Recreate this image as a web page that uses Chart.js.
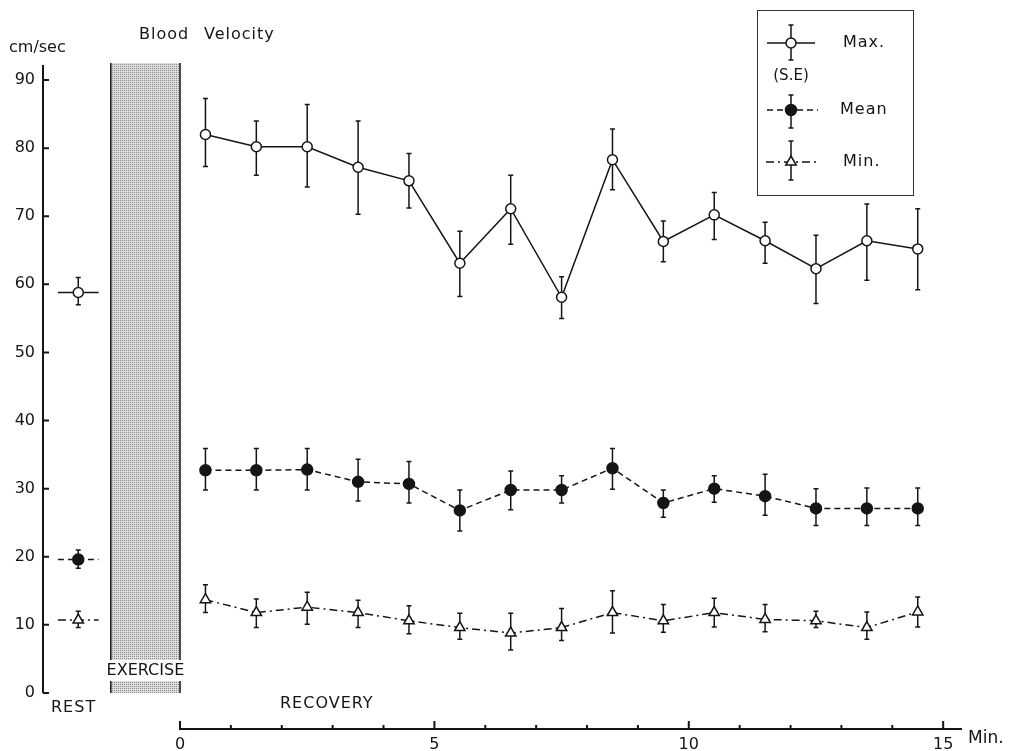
<!DOCTYPE html>
<html>
<head>
<meta charset="utf-8">
<title>Blood Velocity</title>
<script src="https://cdn.jsdelivr.net/npm/chart.js@4.4.1/dist/chart.umd.min.js"></script>
<style>
  html, body { margin: 0; padding: 0; background: #fff; }
  #wrap { width: 1016px; height: 751px; position: relative; }
</style>
</head>
<body>
<div id="wrap"><canvas id="velocityChart"></canvas></div>
<script>
// ===== DATA =====
const recoveryMin = [0.5, 1.5, 2.5, 3.5, 4.5, 5.5, 6.5, 7.5, 8.5, 9.5, 10.5, 11.5, 12.5, 13.5, 14.5];

const maxVel   = [82.0, 80.2, 80.2, 77.2, 75.2, 63.1, 71.1, 58.1, 78.3, 66.3, 70.2, 66.4, 62.3, 66.4, 65.2];
const maxHi    = [87.3, 84.0, 86.4, 84.0, 79.2, 67.8, 76.0, 61.1, 82.8, 69.3, 73.5, 69.1, 67.2, 71.8, 71.1];
const maxLo    = [77.3, 76.0, 74.3, 70.3, 71.2, 58.2, 65.9, 55.0, 73.9, 63.3, 66.6, 63.1, 57.2, 60.6, 59.2];

const meanVel  = [32.7, 32.7, 32.8, 31.0, 30.7, 26.8, 29.8, 29.8, 33.0, 27.9, 30.0, 28.9, 27.1, 27.1, 27.1];
const meanHi   = [35.9, 35.9, 35.9, 34.3, 34.0, 29.8, 32.6, 31.9, 35.9, 29.8, 31.9, 32.1, 30.0, 30.1, 30.1];
const meanLo   = [29.8, 29.8, 29.8, 28.2, 27.9, 23.8, 26.9, 27.9, 29.9, 25.8, 28.0, 26.1, 24.6, 24.6, 24.6];

const minVel   = [13.7, 11.8, 12.6, 11.8, 10.6, 9.6, 8.8, 9.6, 11.8, 10.6, 11.8, 10.8, 10.6, 9.6, 11.9];
const minHi    = [15.9, 13.8, 14.8, 13.6, 12.8, 11.7, 11.7, 12.4, 15.0, 13.0, 13.9, 13.0, 12.0, 11.9, 14.1];
const minLo    = [11.8, 9.6, 10.1, 9.6, 8.7, 7.9, 6.3, 7.7, 8.8, 8.9, 9.7, 9.0, 9.6, 7.9, 9.7];

// rest values: Max, Mean, Min
const restVel  = [58.8, 19.6, 10.7];
const restHi   = [61.0, 21.0, 12.0];
const restLo   = [57.0, 18.3, 9.6];

const seriesNames = ['Max.', 'Mean', 'Min.'];
const yTicks = [0, 10, 20, 30, 40, 50, 60, 70, 80, 90];
const xTicks = [0, 1, 2, 3, 4, 5, 6, 7, 8, 9, 10, 11, 12, 13, 14, 15];
const xLabelEvery = 5;

// position of rest marks and exercise block on the minute scale
const restX = -2.0;
const restSpan = 0.4;
const exerciseStart = -1.36;
const exerciseEnd = 0;

const FONT = '"DejaVu Sans", "Open Sans", sans-serif';
const INK = '#151515';

const styles = [
    { dash: [], fill: '#fff', marker: 'circle', r: 5 },
    { dash: [6, 4], fill: INK, marker: 'circle', r: 5.5 },
    { dash: [8, 4, 2, 4], fill: '#fff', marker: 'triangle', r: 6 }
];

const recoverySets = [
    [maxVel, maxHi, maxLo],
    [meanVel, meanHi, meanLo],
    [minVel, minHi, minLo]
];

const datasets = [];
recoverySets.forEach(([vals, hi, lo], i) => {
    const st = styles[i];
    datasets.push({
        label: seriesNames[i],
        data: recoveryMin.map((m, k) => ({ x: m, y: vals[k] })),
        errHi: hi, errLo: lo,
        borderColor: INK, borderWidth: 1.5, borderDash: st.dash,
        pointStyle: st.marker, pointRadius: st.r, pointBackgroundColor: st.fill,
        pointBorderColor: INK, pointBorderWidth: 1.5, tension: 0
    });
    // short rest segment with its mark in the middle
    datasets.push({
        label: seriesNames[i] + ' rest',
        data: [restX - restSpan, restX, restX + restSpan].map(x => ({ x, y: restVel[i] })),
        errHi: [null, restHi[i], null], errLo: [null, restLo[i], null],
        borderColor: INK, borderWidth: 1.5, borderDash: st.dash,
        pointStyle: st.marker, pointRadius: [0, st.r, 0], pointBackgroundColor: st.fill,
        pointBorderColor: INK, pointBorderWidth: 1.5, tension: 0
    });
});

function stipple(ctx) {
    const p = document.createElement('canvas');
    p.width = 2; p.height = 2;
    const c = p.getContext('2d');
    c.fillStyle = '#dedede'; c.fillRect(0, 0, 2, 2);
    c.fillStyle = '#8a8a8a'; c.fillRect(0, 0, 1, 1);
    return ctx.createPattern(p, 'repeat');
}

function errBar(ctx, px, yTop, yBot, cap) {
    ctx.beginPath();
    ctx.moveTo(px, yTop); ctx.lineTo(px, yBot);
    ctx.moveTo(px - cap, yTop); ctx.lineTo(px + cap, yTop);
    ctx.moveTo(px - cap, yBot); ctx.lineTo(px + cap, yBot);
    ctx.stroke();
}

function marker(ctx, st, x, y) {
    ctx.save();
    ctx.setLineDash([]);
    ctx.lineWidth = 1.5;
    ctx.strokeStyle = INK;
    ctx.fillStyle = st.fill;
    ctx.beginPath();
    if (st.marker === 'circle') {
        ctx.arc(x, y, st.r, 0, Math.PI * 2);
    } else {
        const r = st.r;
        ctx.moveTo(x, y - r);
        ctx.lineTo(x + r * 0.87, y + r * 0.5);
        ctx.lineTo(x - r * 0.87, y + r * 0.5);
        ctx.closePath();
    }
    ctx.fill();
    ctx.stroke();
    ctx.restore();
}

function text(ctx, str, x, y, size, align, spacing) {
    ctx.font = size + 'px ' + FONT;
    ctx.letterSpacing = spacing || '0px';
    ctx.textAlign = align || 'left';
    ctx.textBaseline = 'middle';
    ctx.fillStyle = INK;
    ctx.fillText(str, x, y);
    ctx.letterSpacing = '0px';
}

const overlay = {
    id: 'overlay',
    beforeDatasetsDraw(chart) {
        const { ctx, chartArea, scales: { x, y } } = chart;
        ctx.save();
        // ===== EXERCISE BLOCK =====
        const x0 = x.getPixelForValue(exerciseStart);
        const x1 = x.getPixelForValue(exerciseEnd);
        const top = chartArea.top;
        const bot = y.getPixelForValue(0);
        ctx.fillStyle = stipple(ctx);
        ctx.fillRect(x0, top, x1 - x0, bot - top);
        ctx.strokeStyle = INK;
        ctx.lineWidth = 1.5;
        ctx.beginPath();
        ctx.moveTo(x0, top); ctx.lineTo(x0, bot);
        ctx.moveTo(x1, top); ctx.lineTo(x1, bot);
        ctx.stroke();

        // ===== ERROR BARS =====
        ctx.lineWidth = 1.5;
        chart.data.datasets.forEach((ds, i) => {
            const meta = chart.getDatasetMeta(i);
            meta.data.forEach((pt, k) => {
                if (ds.errHi[k] == null) return;
                errBar(ctx, pt.x, y.getPixelForValue(ds.errHi[k]), y.getPixelForValue(ds.errLo[k]), 2.5);
            });
        });
        ctx.restore();
    },
    afterDraw(chart) {
        const { ctx, chartArea, scales: { x, y } } = chart;
        ctx.save();
        ctx.strokeStyle = INK;
        ctx.lineWidth = 2;

        // ===== Y AXIS =====
        const ax = chartArea.left;
        const y0 = y.getPixelForValue(0);
        ctx.beginPath();
        ctx.moveTo(ax, y.getPixelForValue(y.max) + 2);
        ctx.lineTo(ax, y0);
        yTicks.forEach(v => {
            const py = y.getPixelForValue(v);
            ctx.moveTo(ax, py); ctx.lineTo(ax + 6, py);
        });
        ctx.stroke();

        // ===== X AXIS (time of recovery) =====
        const by = chartArea.bottom;
        ctx.beginPath();
        ctx.moveTo(x.getPixelForValue(0), by - 8);
        ctx.lineTo(x.getPixelForValue(0), by);
        ctx.lineTo(chartArea.right, by);
        xTicks.forEach(v => {
            const px = x.getPixelForValue(v);
            ctx.moveTo(px, by);
            ctx.lineTo(px, by - (v % xLabelEvery === 0 ? 8 : 4));
        });
        ctx.stroke();

        // ===== TEXTS =====
        text(ctx, 'cm/sec', 9, 48, 16);
        text(ctx, 'Blood', 139, 35, 16, 'left', '1px');
        text(ctx, 'Velocity', 204, 35, 16, 'left', '1px');
        text(ctx, 'REST', 51, 708, 16, 'left', '1px');
        text(ctx, 'RECOVERY', 280, 704, 16, 'left', '1px');
        text(ctx, 'Min.', 968, 739, 17);

        const exMid = (x.getPixelForValue(exerciseStart) + x.getPixelForValue(exerciseEnd)) / 2;
        ctx.font = '16px ' + FONT;
        const w = ctx.measureText('EXERCISE').width;
        ctx.fillStyle = '#fff';
        ctx.fillRect(exMid - w / 2 - 2, 660, w + 4, 21);
        text(ctx, 'EXERCISE', exMid, 671, 16, 'center');

        // ===== LEGEND =====
        ctx.lineWidth = 1;
        ctx.strokeStyle = '#333';
        ctx.strokeRect(757.5, 10.5, 156, 185);
        const rows = [
            { y: 43, top: 25, bot: 60, x0: 767, x1: 815, tx: 843 },
            { y: 110, top: 95, bot: 128, x0: 767, x1: 818, tx: 840 },
            { y: 162, top: 141, bot: 180, x0: 766, x1: 816, tx: 843 }
        ];
        const mx = 791;
        rows.forEach((row, i) => {
            const st = styles[i];
            ctx.strokeStyle = INK;
            ctx.lineWidth = 1.5;
            ctx.setLineDash(st.dash);
            ctx.beginPath();
            ctx.moveTo(row.x0, row.y); ctx.lineTo(row.x1, row.y);
            ctx.stroke();
            ctx.setLineDash([]);
            errBar(ctx, mx, row.top, row.bot, 2.5);
            marker(ctx, st, mx, row.y);
            text(ctx, seriesNames[i], row.tx, row.y, 16, 'left', '1px');
        });
        text(ctx, '(S.E)', mx, 76, 15, 'center');
        ctx.restore();
    }
};

new Chart(document.getElementById('velocityChart').getContext('2d'), {
    type: 'line',
    data: { datasets },
    options: {
        responsive: true,
        maintainAspectRatio: false,
        animation: false,
        layout: { padding: { top: 63, right: 54, left: 0, bottom: 0 } },
        plugins: { legend: { display: false }, tooltip: { enabled: false } },
        scales: {
            x: {
                type: 'linear',
                min: -2.693,
                max: 15.37,
                afterBuildTicks: s => { s.ticks = xTicks.map(v => ({ value: v })); },
                afterFit: s => { s.height = 22; },
                grid: { display: false, drawTicks: false },
                border: { display: false },
                ticks: {
                    autoSkip: false, maxRotation: 0, padding: 6,
                    color: INK, font: { family: FONT, size: 16 },
                    callback: v => (v % xLabelEvery === 0 ? v : '')
                }
            },
            y: {
                min: -5.29,
                max: 92.5,
                afterBuildTicks: s => { s.ticks = yTicks.map(v => ({ value: v })); },
                afterFit: s => { s.width = 43; },
                grid: { display: false, drawTicks: false },
                border: { display: false },
                ticks: { padding: 8, color: INK, font: { family: FONT, size: 16 } }
            }
        }
    },
    plugins: [overlay]
});
</script>
</body>
</html>
